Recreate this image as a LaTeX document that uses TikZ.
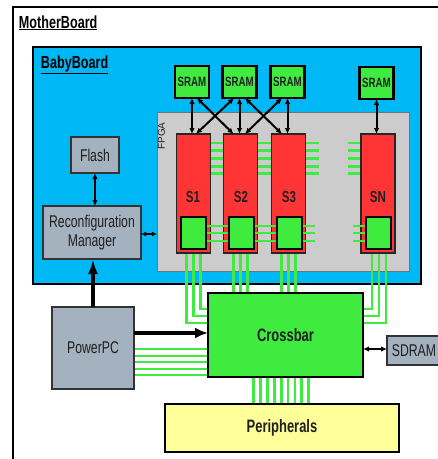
\documentclass[tikz,border=0pt]{standalone}
\usepackage{fontspec}
\newfontfamily\lbl{Liberation Sans}[FakeStretch=0.72]
\newfontfamily\lblr{Liberation Sans}
\usetikzlibrary{arrows.meta,calc}
\definecolor{bbblue}{HTML}{00B8F5}
\definecolor{lgreen}{HTML}{40EB40}
\definecolor{sred}{HTML}{FF3535}
\definecolor{boxgray}{HTML}{A4B1BF}
\definecolor{fpgagray}{HTML}{CCCCCC}
\definecolor{pyellow}{HTML}{FFFF99}
\pgfdeclarelayer{frame}
\pgfdeclarelayer{lines}
\pgfsetlayers{frame,lines,main}
\begin{document}
\begin{tikzpicture}[x=1pt,y=-1pt,
  plain/.style={inner sep=0pt, outer sep=0pt, font=\lbl\fontsize{17}{19}\selectfont, text=black!88},
  graybox/.style={plain, draw=black!80, line width=1.2pt, fill=boxgray, align=center},
  sramnode/.style={plain, draw=black, line width=2.5pt, fill=lgreen, minimum width=34pt, minimum height=32pt, font=\lbl\bfseries\fontsize{13.5}{14}\selectfont},
  slice/.style={plain, draw=black!85, line width=1.3pt, fill=sred, minimum width=34pt, minimum height=119pt},
  slbl/.style={plain, font=\lbl\bfseries\fontsize{16}{16}\selectfont},
  sq/.style={plain, draw=black, line width=2pt, fill=lgreen, minimum width=25pt, minimum height=32pt},
  bigbox/.style={plain, draw=black, line width=2pt, font=\lbl\bfseries\fontsize{18}{19}\selectfont},
  gline/.style={draw=lgreen, line width=2.8pt},
  arr/.style={line width=2pt, {Latex[length=6pt,width=5.5pt]}-{Latex[length=6pt,width=5.5pt]}},
  arrs/.style={line width=1.8pt, {Latex[length=5pt,width=5pt]}-{Latex[length=5pt,width=5pt]}},
  bigarr/.style={line width=3.5pt, -{Latex[length=15pt,width=10pt]}},
  bigarrh/.style={line width=4pt, -{Latex[length=13pt,width=11pt]}}
]
\useasboundingbox (0,0) rectangle (438,459);

\begin{pgfonlayer}{frame}
\node[plain, draw=black, line width=2pt, minimum width=460pt, minimum height=470pt, anchor=north west] (mb) at (12.5,6.5) {};
\node[plain, draw=black, line width=2pt, fill=bbblue, minimum width=388pt, minimum height=237pt, anchor=north west] (bb) at (33,47) {};
\node[plain, draw=black!55, line width=1pt, fill=fpgagray, minimum width=252pt, minimum height=159pt, anchor=north west] (fpga) at (157,112) {};
\end{pgfonlayer}

% labels
\node[plain, text=black, font=\lbl\bfseries\fontsize{17.5}{18}\selectfont, anchor=base west] (mbl) at (19,28) {\underline{MotherBoard}};
\node[plain, text=black, font=\lbl\bfseries\fontsize{17.5}{18}\selectfont, anchor=base west] (bbl) at (41,68) {\underline{BabyBoard}};
\node[plain, font=\lblr\fontsize{10}{10}\selectfont, rotate=90] (fpgal) at (161.5,136) {FPGA};

% SRAMs
\node[sramnode] (m1) at (192,82) {SRAM};
\node[sramnode] (m2) at (239.5,82) {SRAM};
\node[sramnode] (m3) at (287.5,82) {SRAM};
\node[sramnode] (m4) at (376.5,83) {SRAM};

% slices
\node[slice] (s1) at (193.5,193.5) {};
\node[slice] (s2) at (240.5,193.5) {};
\node[slice] (s3) at (288.5,193.5) {};
\node[slice] (sn) at (378,193.5) {};
\node[slbl] (l1) at (193,197) {S1};
\node[slbl] (l2) at (241,197) {S2};
\node[slbl] (l3) at (289,197) {S3};
\node[slbl] (ln) at (378,197) {SN};
\node[sq] (q1) at (193.5,233) {};
\node[sq] (q2) at (241,233) {};
\node[sq] (q3) at (289,233) {};
\node[sq] (qn) at (378,233) {};

% other boxes
\node[graybox, minimum width=48pt, minimum height=36pt] (fl) at (95,155) {Flash};
\node[graybox, minimum width=98pt, minimum height=53pt] (rm) at (92,232.5) {Reconfiguration\\Manager};
\node[graybox, minimum width=82pt, minimum height=82pt] (pp) at (93,348) {PowerPC};
\node[bigbox, fill=lgreen, minimum width=155pt, minimum height=84pt] (xb) at (285.5,335) {Crossbar};
\node[graybox, minimum width=54pt, minimum height=29pt] (sd) at (414,350.5) {SDRAM};
\node[bigbox, fill=pyellow, minimum width=234pt, minimum height=48pt] (pe) at (282,428) {Peripherals};

% green buses under boxes
\begin{pgfonlayer}{lines}
\foreach \dx/\dy in {7/16, 0/23, -7/30}{
  \path (s1.south) ++(\dx,0) coordinate (a) (xb.north west) ++(0,\dy) coordinate (b);
  \draw[gline] (a) |- (b);
}
\foreach \dx/\dy in {-6/16, 1/23, 8/30}{
  \path (sn.south) ++(\dx,0) coordinate (a) (xb.north east) ++(0,\dy) coordinate (b);
  \draw[gline] (a) |- (b);
}
\foreach \n in {s2,s3}{
  \foreach \dx in {-7,0,7}{
    \path (\n.south) ++(\dx,0) coordinate (a);
    \draw[gline] (a) -- (a |- xb.north);
  }
}
\foreach \dy in {9,16.7,24.4,32.1,39.8}{
  \path (s1.north east) ++(0,\dy) coordinate (a);
  \draw[gline] (a) -- (a -| s2.west);
  \path (s2.north east) ++(0,\dy) coordinate (a);
  \draw[gline] (a) -- (a -| s3.west);
  \path (s3.north east) ++(0,\dy) coordinate (a);
  \draw[gline] (a) -- ++(13,0);
  \path (sn.north west) ++(0,\dy) coordinate (a);
  \draw[gline] (a) -- ++(-13,0);
}
\foreach \d in {1,8,14,21,27}{
  \path (pp.east) ++(0,\d) coordinate (a);
  \draw[gline] (a) -- (a -| xb.west);
}
\foreach \i in {0,...,8}{
  \path (xb.south) ++({-32+6.9*\i},0) coordinate (a);
  \draw[gline] (a) -- (a |- pe.north);
}
\end{pgfonlayer}

% lower slice links
\foreach \dy in {-7,0,8}{
  \path (q1.east) ++(0,\dy) coordinate (a);
  \draw[gline, shorten <=1pt, shorten >=1pt] (a) -- (a -| q2.west);
  \path (q2.east) ++(0,\dy) coordinate (a);
  \draw[gline, shorten <=1pt, shorten >=1pt] (a) -- (a -| q3.west);
  \path (q3.east) ++(0,\dy) coordinate (a);
  \draw[gline, shorten <=1pt] (a) -- ++(13,0);
  \path (qn.west) ++(0,\dy) coordinate (a);
  \draw[gline, shorten <=1pt] (a) -- ++(-13,0);
}

% SRAM arrows
\draw[arr] (m1.south) -- (m1.south |- s1.north);
\draw[arr] (m2.south) -- (m2.south |- s2.north);
\draw[arr] (m3.south) -- (m3.south |- s3.north);
\draw[arr] (m4.south) -- (m4.south |- sn.north);
\draw[arr] ([xshift=5pt]m1.south) -- ([xshift=-7pt]s2.north);
\draw[arr] ([xshift=-5.5pt]m2.south) -- ([xshift=2.5pt]s1.north);
\draw[arr] ([xshift=5.5pt]m2.south) -- ([xshift=-6.5pt]s3.north);
\draw[arr] ([xshift=-5.5pt]m3.south) -- ([xshift=4.5pt]s2.north);

% control arrows
\draw[arr, line width=2.5pt] (fl.south) -- (fl.south |- rm.north);
\path (rm.east) ++(0,1.5) coordinate (c1);
\draw[arrs] (c1) -- (c1 -| fpga.west);
\draw[bigarr] (pp.north) -- (pp.north |- rm.south);
\path (pp.north east) ++(0,26) coordinate (c2);
\draw[bigarrh] (c2) -- (c2 -| xb.west);
\path (xb.east) ++(0,14) coordinate (c3);
\draw[arr] (c3) -- (c3 -| sd.west);
\end{tikzpicture}
\end{document}
